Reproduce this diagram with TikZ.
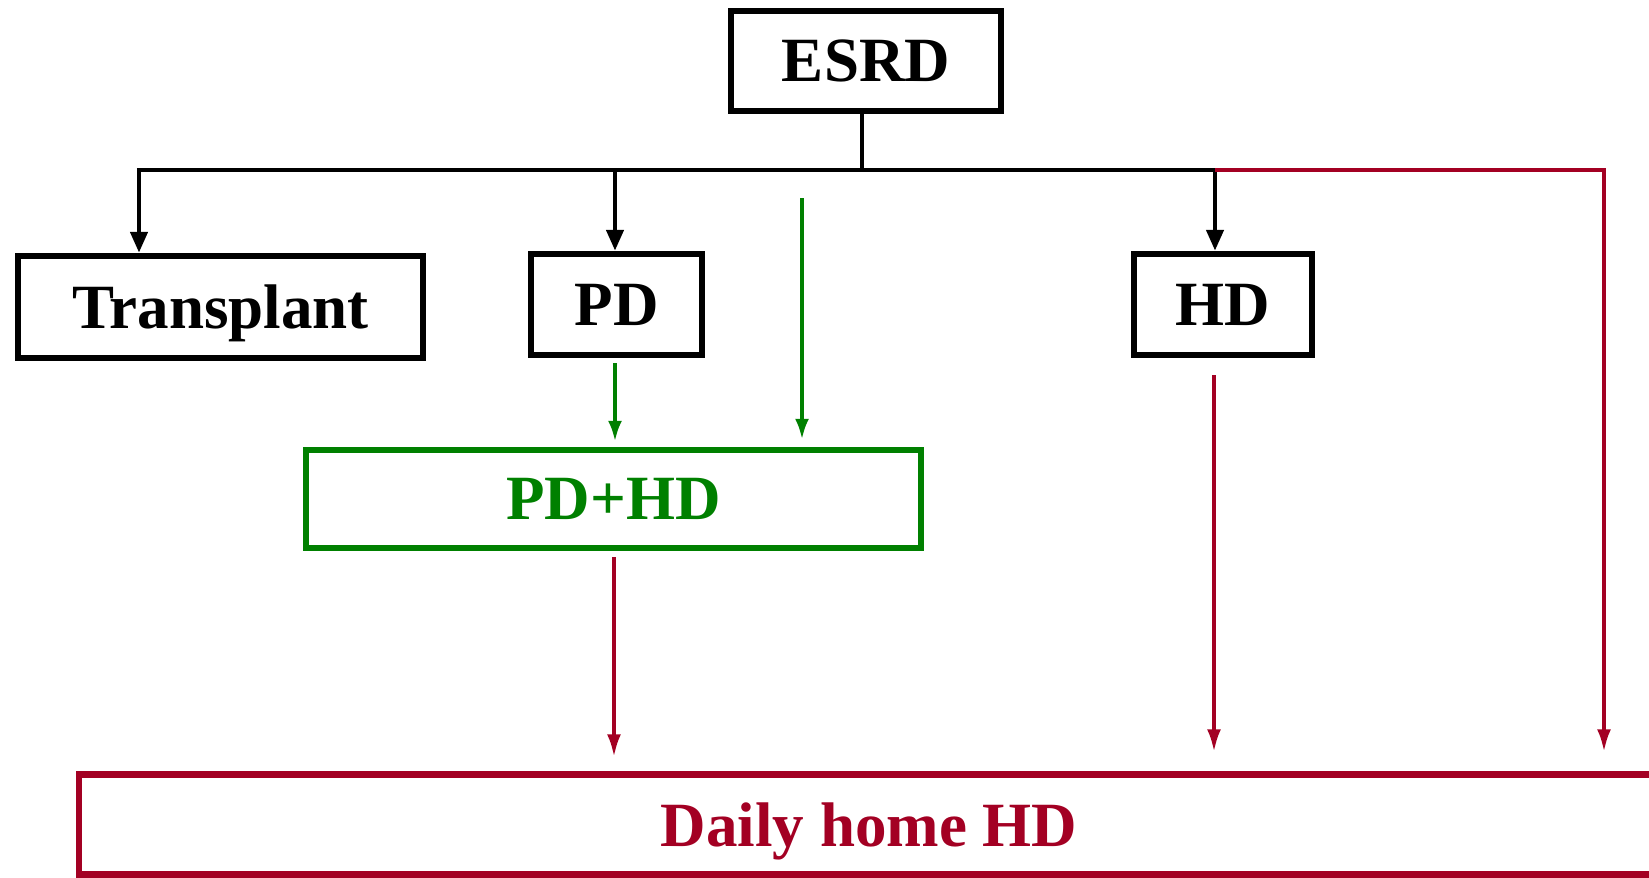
\documentclass[tikz,border=0pt]{standalone}
\usepackage{fontspec}
\setmainfont{Liberation Serif}
\usetikzlibrary{arrows.meta}
\definecolor{pathgreen}{RGB}{0,128,0}
\definecolor{pathred}{RGB}{163,0,35}
\begin{document}
\begin{tikzpicture}[x=1pt,y=-1pt,
  box/.style={draw, line width=6.5pt, inner sep=0pt, text depth=0pt,
    font=\fontsize{63}{63}\selectfont\bfseries},
  blackarrow/.style={line width=4.5pt, -{Triangle[length=21pt,width=17pt]}},
  greenarrow/.style={draw=pathgreen, line width=4pt, -{Latex[length=21pt,width=14pt]}},
  redarrow/.style={draw=pathred, line width=4pt, -{Latex[length=23pt,width=14pt]}},
]
\useasboundingbox (0,0) rectangle (1649,878);

% treatment boxes
\node[box, minimum width=270pt, minimum height=100pt] (esrd) at (866,61) {ESRD};
\node[box, minimum width=405pt, minimum height=102pt] (transplant) at (220.5,307) {Transplant};
\node[box, minimum width=171pt, minimum height=101pt] (pd) at (616.5,304.5) {PD};
\node[box, minimum width=178pt, minimum height=101pt] (hd) at (1223,304.5) {HD};
\node[box, draw=pathgreen, text=pathgreen, minimum width=615pt, minimum height=98pt] (pdhd) at (613.5,499) {PD+HD};
\node[box, draw=pathred, text=pathred, minimum width=1580pt, minimum height=100pt] (daily) at (869,824.5) {Daily home HD};

% branching bus below ESRD
\coordinate (stem) at (862,170);
\coordinate (busL) at (139,170);
\coordinate (busT) at (615,170);
\coordinate (busH) at (1215,170);
\coordinate (rcorner) at (1604,170);
\coordinate (gtop) at (802,198);

\draw[line width=4.5pt] (esrd.south -| stem) -- (stem);
\draw[line width=4.5pt] ([xshift=-2.25pt]busL) -- (busH);
\draw[blackarrow] (busL) -- (transplant.north -| busL);
\draw[blackarrow] (busT) -- (pd.north -| busT);
\draw[blackarrow] (busH) -- (hd.north -| busH);

% routes into combined therapy
\draw[greenarrow, shorten <=5pt, shorten >=5pt] (pd.south -| busT) -- (pdhd.north -| busT);
\draw[greenarrow, shorten >=7pt] (gtop) -- (pdhd.north -| gtop);

% routes into daily home HD
\coordinate (r1) at (614,0);
\coordinate (r2) at (1214,0);
\draw[redarrow, shorten <=6pt, shorten >=14pt] (pdhd.south -| r1) -- (daily.north -| r1);
\draw[redarrow, shorten <=17pt, shorten >=19pt] (hd.south -| r2) -- (daily.north -| r2);
\draw[redarrow, shorten >=19pt] (busH) -- (rcorner) -- (daily.north -| rcorner);
\end{tikzpicture}
\end{document}
